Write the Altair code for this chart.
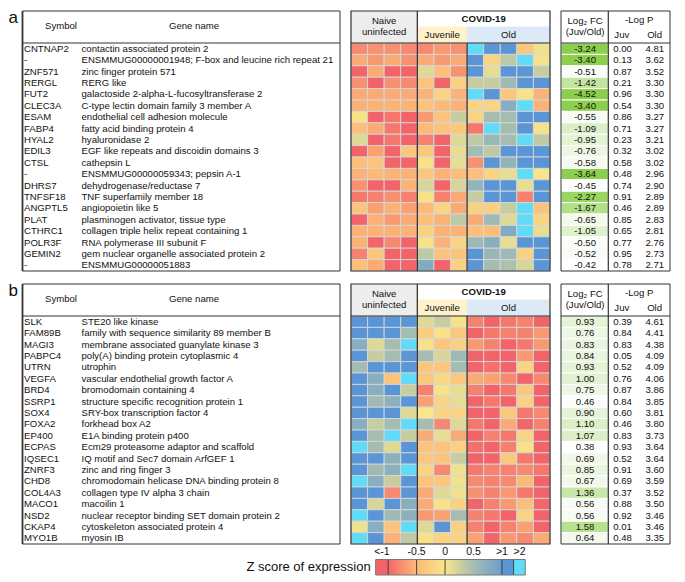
import altair as alt
import pandas as pd

# ---------------- data ----------------
samples = ["N1", "N2", "N3", "N4", "J1", "J2", "J3", "O1", "O2", "O3", "O4", "O5"]

a_symbols = ["CNTNAP2", "-", "ZNF571", "RERGL", "FUT2", "CLEC3A", "ESAM", "FABP4", "HYAL2", "EDIL3",
             "CTSL", "-", "DHRS7", "TNFSF18", "ANGPTL5", "PLAT", "CTHRC1", "POLR3F", "GEMIN2", "-"]
a_genes = ["contactin associated protein 2",
           "ENSMMUG00000001948; F-box and leucine rich repeat 21",
           "zinc finger protein 571", "RERG like",
           "galactoside 2-alpha-L-fucosyltransferase 2",
           "C-type lectin domain family 3 member A",
           "endothelial cell adhesion molecule", "fatty acid binding protein 4",
           "hyaluronidase 2", "EGF like repeats and discoidin domains 3", "cathepsin L",
           "ENSMMUG00000059343; pepsin A-1", "dehydrogenase/reductase 7",
           "TNF superfamily member 18", "angiopoietin like 5",
           "plasminogen activator, tissue type", "collagen triple helix repeat containing 1",
           "RNA polymerase III subunit F", "gem nuclear organelle associated protein 2",
           "ENSMMUG00000051883"]
a_fc = [-3.24, -3.40, -0.51, -1.42, -4.52, -3.40, -0.55, -1.09, -0.95, -0.76,
        -0.58, -3.64, -0.45, -2.27, -1.67, -0.65, -1.05, -0.50, -0.52, -0.42]
a_juv = [0.00, 0.13, 0.87, 0.21, 0.96, 0.54, 0.86, 0.71, 0.23, 0.32,
         0.58, 0.48, 0.74, 0.91, 0.46, 0.85, 0.65, 0.77, 0.95, 0.78]
a_old = [4.81, 3.62, 3.52, 3.30, 3.30, 3.30, 3.27, 3.27, 3.21, 3.02,
         3.02, 2.96, 2.90, 2.89, 2.89, 2.83, 2.81, 2.76, 2.73, 2.71]
a_z = [
    [-0.80, -0.75, -0.75, -0.80, -0.80, -0.70, -0.75, 2.5, 1.3, 1.3, -0.35, 0.05],
    [-0.60, -0.70, -0.60, -0.75, -0.60, -0.70, -0.60, 1.3, -0.20, 0.35, 2.5, -0.05],
    [-1.20, -0.60, -1.20, -1.20, 0.15, -0.45, -0.75, 1.3, 0.10, 1.3, 1.3, 0.30],
    [-0.75, -1.20, -0.75, -0.80, -0.40, -1.20, -0.25, 0.30, 0.30, 0.55, 1.3, 1.3],
    [-0.60, -0.60, -0.60, -0.60, -0.55, -0.20, -0.55, 2.5, 1.3, -0.35, -0.05, -0.55],
    [-0.55, -0.55, -0.55, -0.55, -0.40, -0.50, -0.55, -0.20, -0.20, 0.75, 2.5, -0.55],
    [-0.05, -1.20, -0.90, -1.20, -0.70, -0.40, 0.30, -0.20, 0.50, 0.50, 1.3, 1.3],
    [-0.45, -0.60, -0.90, -1.20, -0.50, -0.40, -0.35, -0.90, 2.5, 0.50, 1.3, -0.05],
    [0.15, -1.20, -0.90, -1.20, -0.85, -1.20, 0.15, 0.35, 0.60, 0.50, 2.5, 0.35],
    [-1.20, -0.65, -1.20, -0.35, -0.35, -1.20, 0.10, 0.50, 0.35, 1.3, 1.3, 1.3],
    [-0.45, -0.40, -1.20, -1.20, -0.05, -1.20, 0.10, -0.75, 1.3, 0.65, 1.3, 1.3],
    [-0.55, -0.50, -0.55, -0.55, -0.35, -0.55, -0.45, -0.45, -0.20, 0.10, 2.5, 0.00],
    [-0.75, -1.20, -1.20, -0.55, 0.20, -1.20, 0.20, 0.65, 1.3, 1.3, 0.10, 1.3],
    [-0.90, -0.85, -0.75, -0.85, -0.05, -0.85, -0.60, 0.30, 1.3, 1.3, -0.85, 1.3],
    [-0.40, -0.65, -0.55, -0.65, -0.50, -0.20, -0.60, -0.25, -0.25, 0.30, 2.5, -0.40],
    [-1.20, -0.55, -0.70, -0.60, -0.45, -0.55, 0.35, -0.60, 0.55, 0.15, 2.5, -0.20],
    [-0.55, -0.55, -0.55, -0.55, -0.25, -0.55, -0.55, -0.45, -0.45, 0.80, 2.5, 0.10],
    [-0.55, -1.20, -0.80, -1.20, -0.05, -0.55, -0.20, 0.55, 0.75, 0.10, 1.3, 1.3],
    [-0.85, -0.35, -1.20, -1.20, 0.35, -0.40, -0.40, 1.3, 0.60, 0.55, -0.25, 1.3],
    [-0.45, -0.60, -1.20, -1.20, 0.80, -1.20, -0.25, 1.3, 0.50, 0.45, 0.20, 1.3],
]

b_symbols = ["SLK", "FAM89B", "MAGI3", "PABPC4", "UTRN", "VEGFA", "BRD4", "SSRP1", "SOX4", "FOXA2",
             "EP400", "ECPAS", "IQSEC1", "ZNRF3", "CHD8", "COL4A3", "MACO1", "NSD2", "CKAP4", "MYO1B"]
b_genes = ["STE20 like kinase", "family with sequence similarity 89 member B",
           "membrane associated guanylate kinase 3", "poly(A) binding protein cytoplasmic 4",
           "utrophin", "vascular endothelial growth factor A", "bromodomain containing 4",
           "structure specific recognition protein 1", "SRY-box transcription factor 4",
           "forkhead box A2", "E1A binding protein p400",
           "Ecm29 proteasome adaptor and scaffold", "IQ motif and Sec7 domain ArfGEF 1",
           "zinc and ring finger 3", "chromodomain helicase DNA binding protein 8",
           "collagen type IV alpha 3 chain", "macoilin 1",
           "nuclear receptor binding SET domain protein 2",
           "cytoskeleton associated protein 4", "myosin IB"]
b_fc = [0.93, 0.76, 0.83, 0.84, 0.93, 1.00, 0.75, 0.46, 0.90, 1.10,
        1.07, 0.38, 0.69, 0.85, 0.67, 1.36, 0.56, 0.56, 1.58, 0.64]
b_juv = [0.39, 0.84, 0.83, 0.05, 0.52, 0.76, 0.87, 0.84, 0.60, 0.46,
         0.83, 0.93, 0.52, 0.91, 0.69, 0.37, 0.88, 0.92, 0.01, 0.48]
b_old = [4.61, 4.41, 4.38, 4.09, 4.09, 4.06, 3.86, 3.85, 3.81, 3.80,
         3.73, 3.64, 3.64, 3.60, 3.59, 3.52, 3.50, 3.46, 3.46, 3.35]
b_z = [
    [1.3, 1.3, 1.3, 1.3, 0.15, 0.30, -0.05, -0.85, -1.20, -0.90, -0.85, -1.10],
    [1.3, 1.3, 1.3, 0.50, -0.30, -0.05, -0.35, -1.20, -0.90, -0.85, -0.85, -0.70],
    [0.75, 0.15, 0.50, 2.5, -0.05, -0.35, -0.25, -0.70, -0.85, -1.10, -0.90, -0.70],
    [1.3, 0.30, 0.50, 1.3, 0.50, 0.20, 0.55, -1.20, -1.20, -1.10, -0.70, -1.20],
    [0.50, 1.3, 1.3, 1.3, -0.35, -0.35, 0.50, -1.20, -0.95, -1.10, -0.20, -1.10],
    [1.3, 0.75, -0.40, 2.5, -0.35, -0.15, -0.35, -0.60, -0.65, -0.80, -1.20, -0.80],
    [1.3, 0.75, 1.3, 0.30, -0.85, -0.05, 0.10, -0.85, -1.10, -0.90, -0.35, -1.20],
    [1.3, 0.55, 0.70, 1.3, -0.65, -0.20, 0.10, -1.20, -0.90, -1.20, -0.25, -1.20],
    [1.3, 1.3, 1.3, 0.15, 0.00, -0.20, -0.20, -1.20, -1.20, -0.35, -0.90, -0.80],
    [0.75, 0.30, 0.50, 2.5, 0.50, -0.80, 0.15, -0.90, -1.10, -0.60, -1.20, -0.85],
    [1.3, 0.50, 2.5, 0.30, -0.60, 0.10, -0.60, -1.20, -0.85, -0.90, -0.20, -1.20],
    [2.5, 0.50, 0.15, 1.3, -0.40, -0.40, -0.25, -0.95, -1.20, -0.85, -0.05, -1.15],
    [1.3, 1.3, 0.70, 1.3, -0.35, -0.40, 0.30, -1.15, -1.20, -0.35, -0.90, -1.10],
    [1.3, 0.55, 0.70, 2.5, -0.20, -0.80, 0.05, -0.90, -0.85, -0.85, -0.80, -0.90],
    [2.5, 0.75, 0.30, 1.3, -0.40, -0.35, 0.05, -0.80, -0.85, -0.80, -0.50, -1.20],
    [1.3, 1.3, -0.80, 1.3, -0.60, 0.15, 0.05, -0.75, -0.85, -0.70, -0.90, -1.20],
    [1.3, 0.20, 1.3, 0.75, -0.60, -0.05, -0.25, -1.20, -0.85, -0.70, -0.45, -1.00],
    [2.5, 1.3, 0.55, 0.70, -0.70, -0.65, 0.50, -0.85, -0.90, -1.10, -0.20, -1.10],
    [0.05, 0.75, -0.40, 2.5, 0.15, 1.3, -0.25, -0.85, -1.20, -0.85, -0.65, -1.10],
    [2.5, 1.3, -0.55, 0.35, -0.05, -0.20, -0.20, -0.65, -1.15, -0.70, -0.80, -0.60],
]

legend_ticks = [-1.11, -0.5, 0.0, 0.5, 1.0, 1.31]
legend_labels = ["<-1", "-0.5", "0", "0.5", ">1", ">2"]

# ---------------- layout / style ----------------
FONT = "Liberation Sans"
FS = 9.6
S = 0.965
RH = 11.4
HH = 32.0
NR = 20
HR = HH / RH
PH = HH + NR * RH
W_LEFT, W_HEAT, W_RIGHT = 332, 199, 109
GAP = 9
LINE = "#333333"

yscale = alt.Scale(domain=[-HR, NR], reverse=True, nice=False, zero=False)
xheat = alt.Scale(domain=[0, 12], nice=False, zero=False)
zscale = alt.Scale(
    type="linear", interpolate="rgb", clamp=True,
    domain=[-4, -1.0001, -1, -0.5, 0, 0.5, 1, 1.0001, 2, 2.0001, 5],
    range=["#F3646A", "#F3646A", "#F4686B", "#FCBA77", "#F7E68A", "#A5BDB1",
           "#6A9FCC", "#5A96D6", "#5A96D6", "#60DCF8", "#60DCF8"])
gscale = alt.Scale(type="linear", interpolate="rgb", clamp=True,
                   domain=[0.4, 1.0, 1.6, 2.3, 3.2],
                   range=["#FFFFFF", "#E1F1D2", "#B7E08E", "#98D45F", "#8CCF4C"])

ONE = pd.DataFrame({"k": [0]})


def Y(f):
    return alt.Y(f, scale=yscale, axis=None)


def txt(t, x, y, size=FS, align="center", weight="normal", baseline="middle"):
    return alt.Chart(ONE).mark_text(text=t, font=FONT, fontSize=size, align=align,
                                    baseline=baseline, fontWeight=weight, color="#111").encode(
        x=alt.value(x), y=alt.value(y))


def box(x0, x1, y0, y1, width=1.0, color=LINE):
    return alt.Chart(ONE).mark_rect(fillOpacity=0, stroke=color, strokeWidth=width).encode(
        x=alt.value(x0), x2=alt.value(x1), y=alt.value(y0), y2=alt.value(y1))


def hline(x0, x1, y, width=1.0):
    return alt.Chart(ONE).mark_rule(color=LINE, strokeWidth=width).encode(
        x=alt.value(x0), x2=alt.value(x1), y=alt.value(y))


def vline(x, y0, y1, width=1.0):
    return alt.Chart(ONE).mark_rule(color=LINE, strokeWidth=width).encode(
        x=alt.value(x), y=alt.value(y0), y2=alt.value(y1))


def rows_df(symbols, genes, fc, juv, old):
    n = len(symbols)
    return pd.DataFrame({
        "row": list(range(n)),
        "row1": [i + 1 for i in range(n)],
        "yc": [i + 0.5 for i in range(n)],
        "symbol": symbols, "gene": genes,
        "absfc": [abs(v) for v in fc],
        "fc_t": [f"{v:.2f}" for v in fc],
        "juv_t": [f"{v:.2f}" for v in juv],
        "old_t": [f"{v:.2f}" for v in old],
    })


def heat_df(z):
    recs = []
    for i, r in enumerate(z):
        for j, v in enumerate(r):
            recs.append({"row": i, "row1": i + 1, "col": j, "col1": j + 1,
                         "sample": samples[j], "z": v})
    return pd.DataFrame(recs)


def left_table(df, label):
    bx = 14.5
    sym = alt.Chart(df).mark_text(align="left", baseline="middle", font=FONT, fontSize=FS,
                                  color="#111").encode(
        x=alt.value(bx + 1.5), y=Y("yc:Q"), text="symbol:N")
    gene = alt.Chart(df).mark_text(align="left", baseline="middle", font=FONT, fontSize=FS,
                                   color="#111").encode(
        x=alt.value(73.5), y=Y("yc:Q"), text="gene:N")
    return alt.layer(
        box(bx, W_LEFT, 0, PH),
        vline(bx, 0, PH, 1.8),
        hline(bx, W_LEFT, HH),
        txt("Symbol", 53, 15.4),
        txt("Gene name", 186, 15.4),
        txt(label, 0.5, 11.5, size=17, align="left", baseline="alphabetic"),
        sym, gene,
    ).properties(width=W_LEFT, height=PH)


def heat_panel(hd):
    cw = W_HEAT / 12.0
    sub = 15.5
    cells = alt.Chart(hd).mark_rect(stroke="#D6D6D6", strokeWidth=0.9).encode(
        x=alt.X("col:Q", scale=xheat, axis=None), x2="col1",
        y=Y("row:Q"), y2="row1",
        fill=alt.Fill("z:Q", scale=zscale, legend=None),
        tooltip=["sample:N", "z:Q"])

    def hbox(c0, c1, y0, y1, fill):
        return alt.Chart(ONE).mark_rect(fill=fill).encode(
            x=alt.value(c0 * cw), x2=alt.value(c1 * cw), y=alt.value(y0), y2=alt.value(y1))

    return alt.layer(
        hbox(0, 4, 0, HH, "#EDEDED"),
        hbox(4, 7, sub, HH, "#FFF1CC"),
        hbox(7, 12, sub, HH, "#DCE9F6"),
        cells,
        txt("Naive", 2 * cw, 9.6),
        txt("uninfected", 2 * cw, 21.3),
        txt("COVID-19", 8 * cw, 7.9, weight="bold"),
        txt("Juvenile", 5.5 * cw, 24.1),
        txt("Old", 9.5 * cw, 24.1),
        hline(0, W_HEAT, HH),
        vline(4 * cw, 0, PH, 1.3),
        vline(7 * cw, HH, PH, 1.3),
        box(0, W_HEAT, 0, PH, 1.2),
    ).properties(width=W_HEAT, height=PH)


def right_table(df):
    fcw = 47.3

    def col_text(field, x):
        return alt.Chart(df).mark_text(align="center", baseline="middle", font=FONT,
                                       fontSize=FS, color="#111").encode(
            x=alt.value(x), y=Y("yc:Q"), text=f"{field}:N")

    fccells = alt.Chart(df).mark_rect(stroke="white", strokeWidth=1).encode(
        x=alt.value(0), x2=alt.value(fcw), y=Y("row:Q"), y2="row1",
        fill=alt.Fill("absfc:Q", scale=gscale, legend=None))
    return alt.layer(
        fccells,
        col_text("fc_t", 24.1),
        col_text("juv_t", 61.5),
        col_text("old_t", 93.8),
        txt("Log\u2082 FC", 24.1, 9.6),
        txt("(Juv/Old)", 24.1, 21.3),
        txt("-Log P", 78.2, 8.7),
        txt("Juv", 60.8, 24.1),
        txt("Old", 93.6, 24.1),
        hline(0, W_RIGHT, HH),
        vline(fcw, 0, PH, 1.2),
        box(0, W_RIGHT, 0, PH, 1.0),
    ).properties(width=W_RIGHT, height=PH)


def panel(label, symbols, genes, fc, juv, old, z):
    df = rows_df(symbols, genes, fc, juv, old)
    hd = heat_df(z)
    return alt.hconcat(left_table(df, label), heat_panel(hd), right_table(df),
                       spacing=GAP).resolve_scale(fill="independent")


# ---------------- legend ----------------
TOTAL_W = W_LEFT + W_HEAT + W_RIGHT + 2 * GAP
U0, U1 = -1.22, 1.41
BX0, BX1 = (383 - 2) * S, (538 - 2) * S
k = (BX1 - BX0) / (U1 - U0)
UMIN = U0 - BX0 / k
UMAX = U1 + (TOTAL_W - BX1) / k
uscale = alt.Scale(domain=[UMIN, UMAX], nice=False, zero=False)

nstrip = 80
strips = []
for i in range(nstrip):
    a0 = -1 + 2 * i / nstrip
    a1 = -1 + 2 * (i + 1) / nstrip
    strips.append({"u0": a0, "u1": min(a1 + 0.02, 1.0), "z": (a0 + a1) / 2})
strips.append({"u0": U0, "u1": -1.0, "z": -1.5})
strips.append({"u0": 1.0, "u1": 1.205, "z": 1.5})
strips.append({"u0": 1.205, "u1": U1, "z": 2.5})
strip_df = pd.DataFrame(strips)

LH = 30
BY0, BY1 = 13.5, 29.0
bar = alt.Chart(strip_df).mark_rect(strokeWidth=0).encode(
    x=alt.X("u0:Q", scale=uscale, axis=None), x2="u1",
    y=alt.value(BY0), y2=alt.value(BY1),
    fill=alt.Fill("z:Q", scale=zscale, legend=None))
div_df = pd.DataFrame({"u": [-1.0, -0.5, 0.0, 1.0, 1.205]})
divs = alt.Chart(div_df).mark_rule(color=LINE, strokeWidth=0.9).encode(
    x=alt.X("u:Q", scale=uscale, axis=None), y=alt.value(BY0), y2=alt.value(BY1))
frame = alt.Chart(pd.DataFrame({"u0": [U0], "u1": [U1]})).mark_rect(
    fillOpacity=0, stroke="#777777", strokeWidth=1).encode(
    x=alt.X("u0:Q", scale=uscale, axis=None), x2="u1", y=alt.value(BY0), y2=alt.value(BY1))
tick_df = pd.DataFrame({"u": legend_ticks, "lab": legend_labels})
ticks = alt.Chart(tick_df).mark_text(font=FONT, fontSize=10.5, baseline="middle",
                                     align="center", color="#111").encode(
    x=alt.X("u:Q", scale=uscale, axis=None), y=alt.value(5.5), text="lab:N")
legend = alt.layer(
    bar, divs, frame, ticks,
    txt("Z score of expression", BX0 - 5, 21.3, size=13, align="right"),
).properties(width=TOTAL_W, height=LH)

pa = panel("a", a_symbols, a_genes, a_fc, a_juv, a_old, a_z)
pb = panel("b", b_symbols, b_genes, b_fc, b_juv, b_old, b_z)

chart = alt.vconcat(
    alt.vconcat(pa, pb, spacing=9).resolve_scale(fill="independent"),
    legend, spacing=1,
).resolve_scale(fill="independent").properties(padding=0).configure_view(stroke=None)

chart.save("out.html", embed_options={"renderer": "svg", "actions": False})
